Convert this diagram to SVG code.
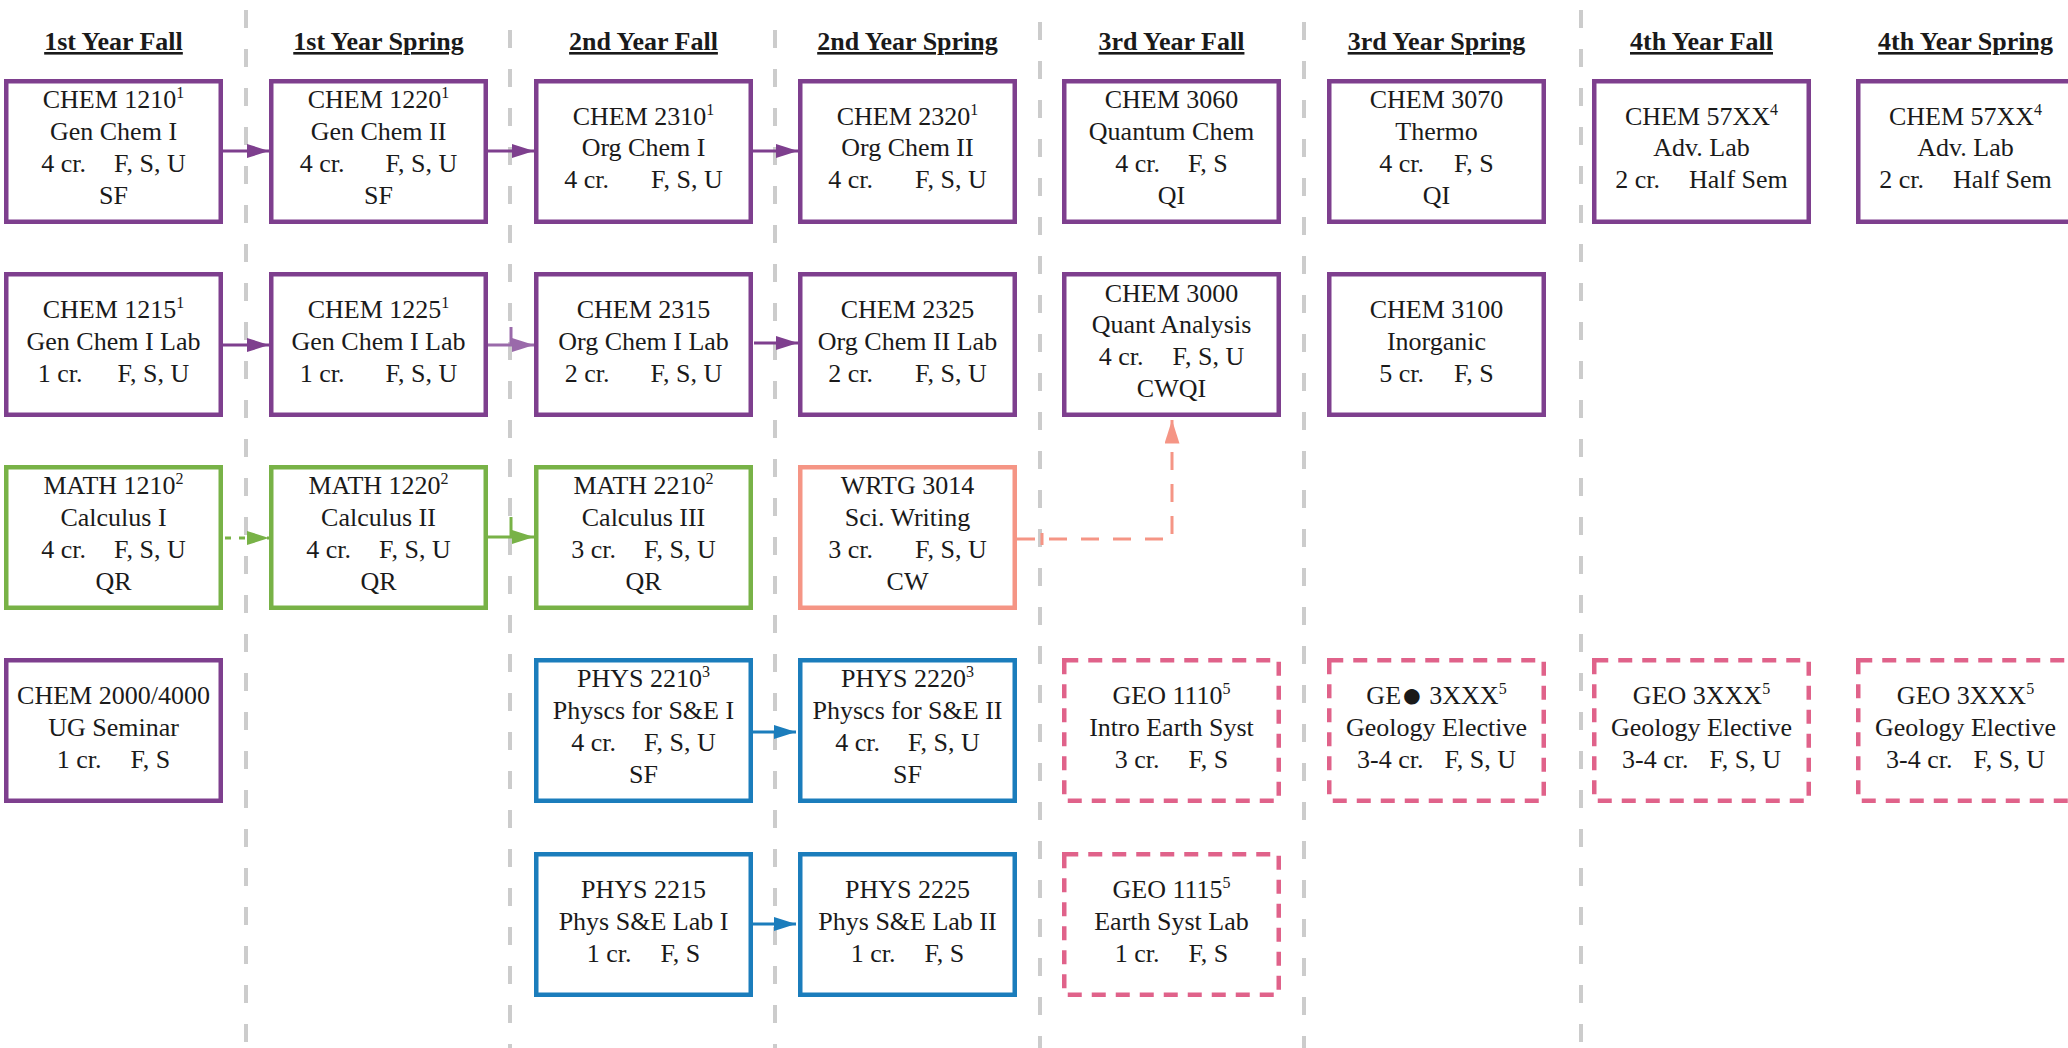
<svg xmlns="http://www.w3.org/2000/svg" width="2068" height="1048" viewBox="0 0 2068 1048">
<style>
.bg{fill:#ffffff}
.sep{stroke:#cccccc;stroke-width:4;stroke-dasharray:18 21;fill:none}
.box{fill:#ffffff;stroke-width:4.5}
.p{stroke:#7e3f8e}
.g{stroke:#78b247}
.s{stroke:#f59585}
.b{stroke:#1b7dbc}
.k{stroke:#e0628a;stroke-dasharray:14 10}
text{font-family:"Liberation Serif","Times New Roman",serif;font-size:26px;text-anchor:middle;fill:#1a1a1a}
.h{font-weight:bold;text-decoration:underline}
.sup{font-size:16px}
.dot{font-size:36px}
.c{fill:none;stroke-width:3}
</style>
<defs>
<marker id="aP" viewBox="0 0 22 14" refX="22" refY="7" markerWidth="22" markerHeight="14" markerUnits="userSpaceOnUse" orient="auto"><path d="M0,0 L22,7 L0,14 z" fill="#7e3f8e"/></marker>
<marker id="aL" viewBox="0 0 22 14" refX="22" refY="7" markerWidth="22" markerHeight="14" markerUnits="userSpaceOnUse" orient="auto"><path d="M0,0 L22,7 L0,14 z" fill="#9a6aaa"/></marker>
<marker id="aG" viewBox="0 0 22 14" refX="22" refY="7" markerWidth="22" markerHeight="14" markerUnits="userSpaceOnUse" orient="auto"><path d="M0,0 L22,7 L0,14 z" fill="#78b247"/></marker>
<marker id="aS" viewBox="0 0 22 14" refX="22" refY="7" markerWidth="24" markerHeight="15" markerUnits="userSpaceOnUse" orient="auto"><path d="M0,0 L22,7 L0,14 z" fill="#f59585"/></marker>
<marker id="aB" viewBox="0 0 22 14" refX="22" refY="7" markerWidth="22" markerHeight="14" markerUnits="userSpaceOnUse" orient="auto"><path d="M0,0 L22,7 L0,14 z" fill="#1b7dbc"/></marker>
</defs>
<rect class="bg" x="0" y="0" width="2068" height="1048"/>

<g id="separators">
<line class="sep" x1="246" y1="10" x2="246" y2="1048"/>
<line class="sep" x1="510" y1="30" x2="510" y2="1048"/>
<line class="sep" x1="775" y1="30" x2="775" y2="1048"/>
<line class="sep" x1="1040" y1="22" x2="1040" y2="1048"/>
<line class="sep" x1="1304" y1="22" x2="1304" y2="1048"/>
<line class="sep" x1="1581" y1="10" x2="1581" y2="1048"/>
</g>

<g id="headers">
<text class="h" x="113.5" y="50">1st Year Fall</text>
<text class="h" x="378.5" y="50">1st Year Spring</text>
<text class="h" x="643.5" y="50">2nd Year Fall</text>
<text class="h" x="907.5" y="50">2nd Year Spring</text>
<text class="h" x="1171.5" y="50">3rd Year Fall</text>
<text class="h" x="1436.5" y="50">3rd Year Spring</text>
<text class="h" x="1701.5" y="50">4th Year Fall</text>
<text class="h" x="1965.5" y="50">4th Year Spring</text>
</g>

<g id="connectors">
<path class="c" stroke="#7e3f8e" d="M223,151 H269" marker-end="url(#aP)"/>
<path class="c" stroke="#7e3f8e" d="M488,151 H534" marker-end="url(#aP)"/>
<path class="c" stroke="#7e3f8e" d="M753,151 H798" marker-end="url(#aP)"/>
<path class="c" stroke="#7e3f8e" d="M223,345 H269" marker-end="url(#aP)"/>
<path class="c" stroke="#9a6aaa" d="M488,345 H534" marker-end="url(#aL)"/>
<path class="c" stroke="#9a6aaa" d="M511,327 V345"/>
<path class="c" stroke="#7e3f8e" d="M754,343 H798" marker-end="url(#aP)"/>
<path class="c" stroke="#78b247" stroke-dasharray="6 8" d="M225,538 H269" marker-end="url(#aG)"/>
<path class="c" stroke="#78b247" d="M488,537 H534" marker-end="url(#aG)"/>
<path class="c" stroke="#78b247" d="M511,517 V537"/>
<path class="c" stroke="#f59585" stroke-width="3.5" stroke-dasharray="18 14" d="M1017,539 H1172 V420" marker-end="url(#aS)"/>
<path class="c" stroke="#f59585" d="M1042,533 V545"/>
<path class="c" stroke="#1b7dbc" d="M751,732 H796" marker-end="url(#aB)"/>
<path class="c" stroke="#1b7dbc" d="M751,924 H796" marker-end="url(#aB)"/>
</g>

<g id="chem1210"><rect class="box p" x="6.25" y="81.25" width="214.5" height="140.5"/>
<text x="113.5" y="108">CHEM 1210<tspan class="sup" dy="-10">1</tspan></text>
<text x="113.5" y="140">Gen Chem I</text>
<text x="113.5" y="172"><tspan>4 cr.</tspan><tspan dx="28">F, S, U</tspan></text>
<text x="113.5" y="204">SF</text></g>

<g id="chem1215"><rect class="box p" x="6.25" y="274.25" width="214.5" height="140.5"/>
<text x="113.5" y="318">CHEM 1215<tspan class="sup" dy="-10">1</tspan></text>
<text x="113.5" y="350">Gen Chem I Lab</text>
<text x="113.5" y="382"><tspan>1 cr.</tspan><tspan dx="35">F, S, U</tspan></text></g>

<g id="math1210"><rect class="box g" x="6.25" y="467.25" width="214.5" height="140.5"/>
<text x="113.5" y="494">MATH 1210<tspan class="sup" dy="-10">2</tspan></text>
<text x="113.5" y="526">Calculus I</text>
<text x="113.5" y="558"><tspan>4 cr.</tspan><tspan dx="28">F, S, U</tspan></text>
<text x="113.5" y="590">QR</text></g>

<g id="chem2000"><rect class="box p" x="6.25" y="660.25" width="214.5" height="140.5"/>
<text x="113.5" y="704">CHEM 2000/4000</text>
<text x="113.5" y="736">UG Seminar</text>
<text x="113.5" y="768"><tspan>1 cr.</tspan><tspan dx="29">F, S</tspan></text></g>

<g id="chem1220"><rect class="box p" x="271.25" y="81.25" width="214.5" height="140.5"/>
<text x="378.5" y="108">CHEM 1220<tspan class="sup" dy="-10">1</tspan></text>
<text x="378.5" y="140">Gen Chem II</text>
<text x="378.5" y="172"><tspan>4 cr.</tspan><tspan dx="41">F, S, U</tspan></text>
<text x="378.5" y="204">SF</text></g>

<g id="chem1225"><rect class="box p" x="271.25" y="274.25" width="214.5" height="140.5"/>
<text x="378.5" y="318">CHEM 1225<tspan class="sup" dy="-10">1</tspan></text>
<text x="378.5" y="350">Gen Chem I Lab</text>
<text x="378.5" y="382"><tspan>1 cr.</tspan><tspan dx="41">F, S, U</tspan></text></g>

<g id="math1220"><rect class="box g" x="271.25" y="467.25" width="214.5" height="140.5"/>
<text x="378.5" y="494">MATH 1220<tspan class="sup" dy="-10">2</tspan></text>
<text x="378.5" y="526">Calculus II</text>
<text x="378.5" y="558"><tspan>4 cr.</tspan><tspan dx="28">F, S, U</tspan></text>
<text x="378.5" y="590">QR</text></g>

<g id="chem2310"><rect class="box p" x="536.25" y="81.25" width="214.5" height="140.5"/>
<text x="643.5" y="125">CHEM 2310<tspan class="sup" dy="-10">1</tspan></text>
<text x="643.5" y="156">Org Chem I</text>
<text x="643.5" y="188"><tspan>4 cr.</tspan><tspan dx="42">F, S, U</tspan></text></g>

<g id="chem2315"><rect class="box p" x="536.25" y="274.25" width="214.5" height="140.5"/>
<text x="643.5" y="318">CHEM 2315</text>
<text x="643.5" y="350">Org Chem I Lab</text>
<text x="643.5" y="382"><tspan>2 cr.</tspan><tspan dx="41">F, S, U</tspan></text></g>

<g id="math2210"><rect class="box g" x="536.25" y="467.25" width="214.5" height="140.5"/>
<text x="643.5" y="494">MATH 2210<tspan class="sup" dy="-10">2</tspan></text>
<text x="643.5" y="526">Calculus III</text>
<text x="643.5" y="558"><tspan>3 cr.</tspan><tspan dx="28">F, S, U</tspan></text>
<text x="643.5" y="590">QR</text></g>

<g id="phys2210"><rect class="box b" x="536.25" y="660.25" width="214.5" height="140.5"/>
<text x="643.5" y="687">PHYS 2210<tspan class="sup" dy="-10">3</tspan></text>
<text x="643.5" y="719">Physcs for S&amp;E I</text>
<text x="643.5" y="751"><tspan>4 cr.</tspan><tspan dx="28">F, S, U</tspan></text>
<text x="643.5" y="783">SF</text></g>

<g id="phys2215"><rect class="box b" x="536.25" y="854.25" width="214.5" height="140.5"/>
<text x="643.5" y="898">PHYS 2215</text>
<text x="643.5" y="930">Phys S&amp;E Lab I</text>
<text x="643.5" y="962"><tspan>1 cr.</tspan><tspan dx="29">F, S</tspan></text></g>

<g id="chem2320"><rect class="box p" x="800.25" y="81.25" width="214.5" height="140.5"/>
<text x="907.5" y="125">CHEM 2320<tspan class="sup" dy="-10">1</tspan></text>
<text x="907.5" y="156">Org Chem II</text>
<text x="907.5" y="188"><tspan>4 cr.</tspan><tspan dx="42">F, S, U</tspan></text></g>

<g id="chem2325"><rect class="box p" x="800.25" y="274.25" width="214.5" height="140.5"/>
<text x="907.5" y="318">CHEM 2325</text>
<text x="907.5" y="350">Org Chem II Lab</text>
<text x="907.5" y="382"><tspan>2 cr.</tspan><tspan dx="42">F, S, U</tspan></text></g>

<g id="wrtg3014"><rect class="box s" x="800.25" y="467.25" width="214.5" height="140.5"/>
<text x="907.5" y="494">WRTG 3014</text>
<text x="907.5" y="526">Sci. Writing</text>
<text x="907.5" y="558"><tspan>3 cr.</tspan><tspan dx="42">F, S, U</tspan></text>
<text x="907.5" y="590">CW</text></g>

<g id="phys2220"><rect class="box b" x="800.25" y="660.25" width="214.5" height="140.5"/>
<text x="907.5" y="687">PHYS 2220<tspan class="sup" dy="-10">3</tspan></text>
<text x="907.5" y="719">Physcs for S&amp;E II</text>
<text x="907.5" y="751"><tspan>4 cr.</tspan><tspan dx="28">F, S, U</tspan></text>
<text x="907.5" y="783">SF</text></g>

<g id="phys2225"><rect class="box b" x="800.25" y="854.25" width="214.5" height="140.5"/>
<text x="907.5" y="898">PHYS 2225</text>
<text x="907.5" y="930">Phys S&amp;E Lab II</text>
<text x="907.5" y="962"><tspan>1 cr.</tspan><tspan dx="29">F, S</tspan></text></g>

<g id="chem3060"><rect class="box p" x="1064.25" y="81.25" width="214.5" height="140.5"/>
<text x="1171.5" y="108">CHEM 3060</text>
<text x="1171.5" y="140">Quantum Chem</text>
<text x="1171.5" y="172"><tspan>4 cr.</tspan><tspan dx="28">F, S</tspan></text>
<text x="1171.5" y="204">QI</text></g>

<g id="chem3000"><rect class="box p" x="1064.25" y="274.25" width="214.5" height="140.5"/>
<text x="1171.5" y="302">CHEM 3000</text>
<text x="1171.5" y="333">Quant Analysis</text>
<text x="1171.5" y="365"><tspan>4 cr.</tspan><tspan dx="29">F, S, U</tspan></text>
<text x="1171.5" y="397">CWQI</text></g>

<g id="geo1110"><rect class="box k" x="1064.25" y="660.25" width="214.5" height="140.5"/>
<text x="1171.5" y="704">GEO 1110<tspan class="sup" dy="-10">5</tspan></text>
<text x="1171.5" y="736">Intro Earth Syst</text>
<text x="1171.5" y="768"><tspan>3 cr.</tspan><tspan dx="29">F, S</tspan></text></g>

<g id="geo1115"><rect class="box k" x="1064.25" y="854.25" width="214.5" height="140.5"/>
<text x="1171.5" y="898">GEO 1115<tspan class="sup" dy="-10">5</tspan></text>
<text x="1171.5" y="930">Earth Syst Lab</text>
<text x="1171.5" y="962"><tspan>1 cr.</tspan><tspan dx="29">F, S</tspan></text></g>

<g id="chem3070"><rect class="box p" x="1329.25" y="81.25" width="214.5" height="140.5"/>
<text x="1436.5" y="108">CHEM 3070</text>
<text x="1436.5" y="140">Thermo</text>
<text x="1436.5" y="172"><tspan>4 cr.</tspan><tspan dx="30">F, S</tspan></text>
<text x="1436.5" y="204">QI</text></g>

<g id="chem3100"><rect class="box p" x="1329.25" y="274.25" width="214.5" height="140.5"/>
<text x="1436.5" y="318">CHEM 3100</text>
<text x="1436.5" y="350">Inorganic</text>
<text x="1436.5" y="382"><tspan>5 cr.</tspan><tspan dx="30">F, S</tspan></text></g>

<g id="geo3xxx-a"><rect class="box k" x="1329.25" y="660.25" width="214.5" height="140.5"/>
<text x="1436.5" y="704">GE<tspan class="dot" dy="3">●</tspan><tspan dy="-3"> 3XXX</tspan><tspan class="sup" dy="-10">5</tspan></text>
<text x="1436.5" y="736">Geology Elective</text>
<text x="1436.5" y="768"><tspan>3-4 cr.</tspan><tspan dx="21">F, S, U</tspan></text></g>

<g id="chem57xx-a"><rect class="box p" x="1594.25" y="81.25" width="214.5" height="140.5"/>
<text x="1701.5" y="125">CHEM 57XX<tspan class="sup" dy="-10">4</tspan></text>
<text x="1701.5" y="156">Adv. Lab</text>
<text x="1701.5" y="188"><tspan>2 cr.</tspan><tspan dx="29">Half Sem</tspan></text></g>

<g id="geo3xxx-b"><rect class="box k" x="1594.25" y="660.25" width="214.5" height="140.5"/>
<text x="1701.5" y="704">GEO 3XXX<tspan class="sup" dy="-10">5</tspan></text>
<text x="1701.5" y="736">Geology Elective</text>
<text x="1701.5" y="768"><tspan>3-4 cr.</tspan><tspan dx="21">F, S, U</tspan></text></g>

<g id="chem57xx-b"><rect class="box p" x="1858.25" y="81.25" width="214.5" height="140.5"/>
<text x="1965.5" y="125">CHEM 57XX<tspan class="sup" dy="-10">4</tspan></text>
<text x="1965.5" y="156">Adv. Lab</text>
<text x="1965.5" y="188"><tspan>2 cr.</tspan><tspan dx="29">Half Sem</tspan></text></g>

<g id="geo3xxx-c"><rect class="box k" x="1858.25" y="660.25" width="214.5" height="140.5"/>
<text x="1965.5" y="704">GEO 3XXX<tspan class="sup" dy="-10">5</tspan></text>
<text x="1965.5" y="736">Geology Elective</text>
<text x="1965.5" y="768"><tspan>3-4 cr.</tspan><tspan dx="21">F, S, U</tspan></text></g>
</svg>
